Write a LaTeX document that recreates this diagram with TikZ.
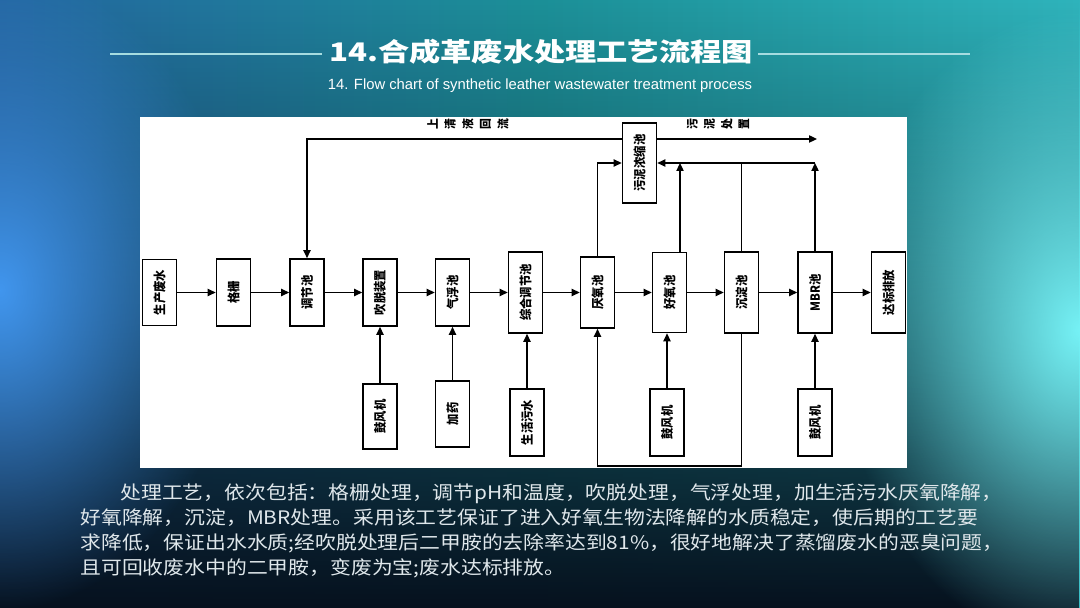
\documentclass[tikz,border=0pt]{standalone}
\usepackage{fontspec}
\usepackage{graphicx}
\newfontfamily\cjk{Noto Sans CJK SC}
\newfontfamily\latin{Liberation Sans}
\usetikzlibrary{arrows.meta,fadings}
\definecolor{bgleft}{HTML}{2466A0}
\definecolor{bgmid}{HTML}{1C9098}
\definecolor{bgright}{HTML}{2FB4BC}
\definecolor{bgdark}{HTML}{06111E}
\definecolor{glowblue}{HTML}{4196EE}
\definecolor{glowcyan}{HTML}{76F2F6}
\definecolor{rulecol}{HTML}{A6DCE0}
\definecolor{bodytext}{HTML}{DFE7EB}
\tikzfading[name=darkbottom, top color=transparent!100, middle color=transparent!80, bottom color=transparent!0]
\tikzfading[name=glow, inner color=transparent!0, outer color=transparent!100]
\tikzset{>={Triangle[length=4pt,width=3.6pt]},
  unit/.style={draw, line width=0.8pt, fill=white, inner sep=0pt, minimum width=17pt,
    font=\cjk\bfseries\fontsize{6.3}{6.3}\selectfont},
  flow/.style={->, line width=0.8pt},
  tag/.style={inner sep=0pt, font=\cjk\bfseries\fontsize{6}{6}\selectfont}}
\newcommand{\up}[1]{\rotatebox{90}{\scalebox{0.9}[1]{#1}}}

\begin{document}
\begin{tikzpicture}[x=0.5pt,y=-0.5pt]
\useasboundingbox (0,0) rectangle (1080,608);
% background
\begin{scope}
\clip (0,0) rectangle (1080,608);
\shade[left color=bgleft, right color=bgright, middle color=bgmid] (0,0) rectangle (1080,608);
\fill[bgdark, path fading=darkbottom] (0,0) rectangle (1080,608);
\fill[glowblue, path fading=glow] (0,290) ellipse (120pt and 160pt);
\fill[glowcyan, path fading=glow] (1080,330) ellipse (120pt and 160pt);
\end{scope}

% heading
\draw[rulecol, line width=0.6pt] (110,54) -- (322,54);
\draw[rulecol, line width=0.6pt] (758,54) -- (970,54);
\node[white, font=\cjk\bfseries\fontsize{12.8}{12.8}\selectfont] (title) at (541,52)
  {\scalebox{1.22}[1]{14.合成革废水处理工艺流程图}};
\node[white, font=\latin\fontsize{7.4}{7.4}\selectfont] (subtitle) at (540,86)
  {14. Flow chart of synthetic leather wastewater treatment process};

\fill[white] (140,117) rectangle (907,468);

% main line
\node[unit, minimum height=33pt]   (raw)    at (159.5,292.5) {\up{生产废水}};
\node[unit, minimum height=33.5pt] (screen) at (233.5,292.5) {\up{格栅}};
\node[unit, minimum height=33.5pt] (eq)     at (307,292.5)   {\up{调节池}};
\node[unit, minimum height=33.5pt] (strip)  at (380,292.5)   {\up{吹脱装置}};
\node[unit, minimum height=33.5pt] (flot)   at (452.5,292.5) {\up{气浮池}};
\node[unit, minimum height=40.5pt] (mix)    at (525.5,292.5) {\up{综合调节池}};
\node[unit, minimum height=35.5pt] (anaer)  at (597.5,292.5) {\up{厌氧池}};
\node[unit, minimum height=40pt]   (aer)    at (669.5,292.5) {\up{好氧池}};
\node[unit, minimum height=40.5pt] (sed)    at (741.5,292.5) {\up{沉淀池}};
\node[unit, minimum height=40.5pt] (mbr)    at (815,292.5)   {\up{MBR池}};
\node[unit, minimum height=40.5pt] (out)    at (888.5,292.5) {\up{达标排放}};
\node[unit, minimum height=40pt]   (thick)  at (639.5,163)   {\up{污泥浓缩池}};

% feeds
\node[unit, minimum height=32.5pt] (blow1) at (380,416.5) {\up{鼓风机}};
\node[unit, minimum height=33pt]   (dose)  at (452.5,414) {\up{加药}};
\node[unit, minimum height=33.5pt] (dom)   at (527,422.5) {\up{生活污水}};
\node[unit, minimum height=33.5pt] (blow2) at (667,422.5) {\up{鼓风机}};
\node[unit, minimum height=33.5pt] (blow3) at (815,422.5) {\up{鼓风机}};

\coordinate (back) at (307,139);
\coordinate (dump) at (817,139);
\coordinate (jaer) at (680,163);
\coordinate (jsed) at (741.5,163);
\coordinate (jmbr) at (815,163);
\coordinate (loop) at (741.5,466);

\foreach \a/\b in {raw/screen,screen/eq,eq/strip,strip/flot,flot/mix,mix/anaer,anaer/aer,aer/sed,sed/mbr,mbr/out}
  \draw[flow] (\a) -- (\b);
\foreach \a/\b in {blow1/strip,dose/flot,blow3/mbr}
  \draw[flow] (\a) -- (\b);
\draw[flow] (dom) -- (dom |- mix.south);
\draw[flow] (blow2) -- (blow2 |- aer.south);

% sludge and return lines
\draw[flow] (thick.west |- back) -- (back) -- (eq);
\draw[flow] (thick.east |- dump) -- (dump);
\draw[flow] (anaer) |- (thick);
\draw[flow] (jaer |- aer.north) -- (jaer);
\draw[line width=0.8pt] (sed) -- (jsed);
\draw[flow] (mbr) -- (jmbr);
\draw[flow] (jmbr) -- (thick);
\draw[flow] (sed) -- (loop) -| (anaer);

\node[tag] (backtag) at (468,124) {\up{上}\hspace{3.2pt}\up{清}\hspace{3.2pt}\up{液}\hspace{3.2pt}\up{回}\hspace{3.2pt}\up{流}};
\node[tag] (dumptag) at (718,124) {\up{污}\hspace{3pt}\up{泥}\hspace{3pt}\up{处}\hspace{3pt}\up{置}};

% description
\foreach \x/\y/\t [count=\i] in {
  120/499/{处理工艺，依次包括：格栅处理，调节pH和温度，吹脱处理，气浮处理，加生活污水厌氧降解，},
  80/524/{好氧降解，沉淀，MBR处理。采用该工艺保证了进入好氧生物法降解的水质稳定，使后期的工艺要},
  80/549/{求降低，保证出水水质;经吹脱处理后二甲胺的去除率达到81\%，很好地解决了蒸馏废水的恶臭问题，},
  80/574/{且可回收废水中的二甲胺，变废为宝;废水达标排放。}}
  \node[anchor=base west, inner sep=0pt, text=bodytext, font=\cjk\fontsize{9.3}{9.3}\selectfont]
    (line\i) at (\x,\y) {\scalebox{1.12}[1]{\t}};
\end{tikzpicture}
\end{document}
